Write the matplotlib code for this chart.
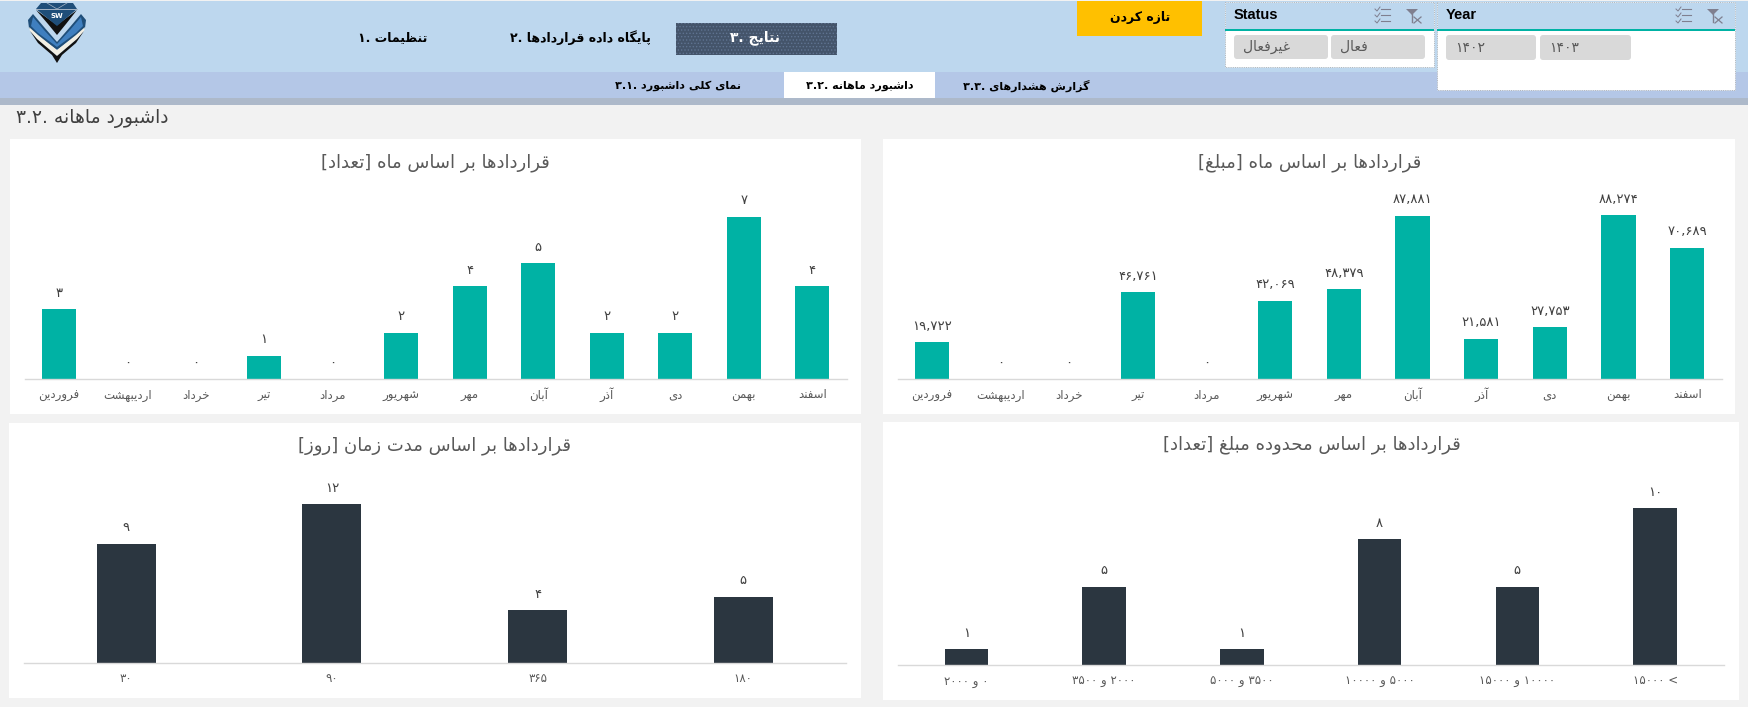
import re
import unicodedata
import matplotlib
matplotlib.use('Agg')
import matplotlib.pyplot as plt
from matplotlib.patches import Rectangle, Polygon, FancyBboxPatch

plt.rcParams['font.family'] = ['DejaVu Sans']
plt.rcParams['hatch.linewidth'] = 0.6

W, H = 1748, 707

# chart data
months = ['فروردین', 'اردیبهشت', 'خرداد', 'تیر', 'مرداد', 'شهریور', 'مهر', 'آبان', 'آذر', 'دی', 'بهمن', 'اسفند']
month_amount = [19722, 0, 0, 46761, 0, 42069, 48379, 87881, 21581, 27753, 88274, 70689]
month_count = [3, 0, 0, 1, 0, 2, 4, 5, 2, 2, 7, 4]
range_labels = ['۰ و ۲۰۰۰', '۲۰۰۰ و ۳۵۰۰', '۳۵۰۰ و ۵۰۰۰', '۵۰۰۰ و ۱۰۰۰۰', '۱۰۰۰۰ و ۱۵۰۰۰', '< ۱۵۰۰۰']
range_count = [1, 5, 1, 8, 5, 10]
duration_labels = ['۳۰', '۹۰', '۳۶۵', '۱۸۰']
duration_count = [9, 12, 4, 5]

TEAL = '#00B2A4'
DARK = '#2B3640'
GREY = '#595959'

RIGHT_JOIN = 'اآدذرزژو'


def is_letter(c):
    return unicodedata.name(c, '').startswith('ARABIC LETTER')


# matplotlib has no arabic shaping, so pick the joined forms by hand
def fa(text):
    out = []
    for i, c in enumerate(text):
        if not is_letter(c):
            out.append(c)
            continue
        prev = text[i - 1] if i > 0 else ' '
        nxt = text[i + 1] if i < len(text) - 1 else ' '
        p = is_letter(prev) and prev not in RIGHT_JOIN
        n = is_letter(nxt) and c not in RIGHT_JOIN
        form = 'MEDIAL' if p and n else 'FINAL' if p else 'INITIAL' if n else 'ISOLATED'
        try:
            out.append(unicodedata.lookup(unicodedata.name(c) + ' ' + form + ' FORM'))
        except KeyError:
            out.append(c)
    parts = re.findall(r'[۰-۹]+(?:[.,][۰-۹]+)*|.', ''.join(out))
    vis = ''.join(parts[::-1])
    return vis.translate({ord('['): ']', ord(']'): '['})


def fa_num(v):
    return f'{v:,}'.translate(str.maketrans('0123456789', '۰۱۲۳۴۵۶۷۸۹'))


fig = plt.figure(figsize=(W / 100, H / 100), dpi=100, facecolor='#F2F2F2')
bg = fig.add_axes([0, 0, 1, 1])
bg.set_xlim(0, W)
bg.set_ylim(H, 0)
bg.axis('off')


def box(x0, y0, x1, y1, color, **kw):
    bg.add_patch(Rectangle((x0, y0), x1 - x0, y1 - y0, facecolor=color, edgecolor=kw.pop('edgecolor', 'none'), **kw))


# header bands
box(0, 1, W, 72, '#BDD7EE')
box(0, 72, W, 98, '#B4C7E7')
box(0, 98, W, 105, '#ADB9CA')


# logo, wings are mirrored around x=57
def wing(pts, color):
    bg.add_patch(Polygon(pts, facecolor=color, edgecolor='none'))
    bg.add_patch(Polygon([(114 - x, y) for x, y in pts], facecolor=color, edgecolor='none'))


wing([(28, 20), (33, 14), (44, 27), (57, 42), (57, 50), (38, 36), (29, 28)], '#1F4E79')
wing([(33, 17), (44, 30), (57, 44), (57, 47), (38, 33), (31, 26)], '#3F7FBF')
wing([(29, 27), (38, 35), (57, 50), (57, 56), (37, 39), (30, 31)], '#F2EFE4')
wing([(30, 31), (37, 39), (57, 56), (57, 63), (52, 55), (38, 43)], '#111111')
bg.add_patch(Polygon([(36, 10), (57, 25), (77, 10), (66, 24), (57, 35), (48, 24)], facecolor='#111111'))
bg.add_patch(Polygon([(41, 3), (73, 3), (77, 9), (57, 26), (36, 9)], facecolor='#1F4E79'))
bg.plot([36, 77], [9, 9], color='#A6B4C4', lw=0.7)
bg.plot([47, 57, 67], [3, 9, 3], color='#A6B4C4', lw=0.5)
bg.text(57, 15.5, 'SW', color='white', fontsize=5, fontweight='bold', ha='center', va='center')

# main tabs
bg.add_patch(Rectangle((676, 23), 161, 32, facecolor='#44546A', edgecolor='#5F7391', hatch='.....', lw=0))
bg.text(755, 38, fa('نتایج .۳'), color='white', fontsize=10, fontweight='bold', ha='center', va='center')
bg.text(580, 38, fa('پایگاه داده قراردادها .۲'), color='black', fontsize=9, fontweight='bold', ha='center', va='center')
bg.text(393, 38, fa('تنظیمات .۱'), color='black', fontsize=9, fontweight='bold', ha='center', va='center')

# sub tabs
box(784, 72, 935, 98, 'white')
bg.text(860, 86, fa('داشبورد ماهانه .۳.۲'), color='black', fontsize=8, fontweight='bold', ha='center', va='center')
bg.text(678, 86, fa('نمای کلی داشبورد .۳.۱'), color='black', fontsize=8, fontweight='bold', ha='center', va='center')
bg.text(1026, 86, fa('گزارش هشدارهای .۳.۳'), color='black', fontsize=8, fontweight='bold', ha='center', va='center')

bg.text(16, 119, fa('داشبورد ماهانه .۳.۲'), color='#404040', fontsize=13.5, ha='left', va='center')

# refresh button
box(1077, 1, 1202, 36, '#FFC000')
bg.text(1140, 18, fa('تازه کردن'), color='black', fontsize=9, fontweight='bold', ha='center', va='center')


def slicer(x0, x1, y1, name, buttons):
    box(x0, 2, x1, y1, 'white', edgecolor='#A6A6A6', lw=0.6, ls=':')
    box(x0 + 0.5, 2.5, x1 - 0.5, 29, '#BDD7EE')
    box(x0, 29, x1, 31, TEAL)
    bg.text(x0 + 9, 15, name, color='black', fontsize=10.5, fontweight='bold', family='Liberation Sans', ha='left', va='center')
    # select / clear icons
    ix, fx = x1 - 52, x1 - 22
    for dy in (-6, 0, 6):
        bg.plot([ix - 1, ix + 8], [15 + dy, 15 + dy], color='#7F7F8F', lw=0.8)
        bg.plot([ix - 7, ix - 5, ix - 2], [15 + dy, 17 + dy, 13 + dy], color='#7F7F8F', lw=0.7)
    bg.add_patch(Polygon([(fx - 6, 9), (fx + 6, 9), (fx, 15)], facecolor='#7F7F8F'))
    bg.plot([fx, fx], [14, 22], color='#7F7F8F', lw=1)
    bg.plot([fx + 2, fx + 9], [17, 23], color='#7F7F8F', lw=0.9)
    bg.plot([fx + 2, fx + 9], [23, 17], color='#7F7F8F', lw=0.9)
    for bx0, bx1, by1, label in buttons:
        bg.add_patch(FancyBboxPatch((bx0 + 2, 37), bx1 - bx0 - 4, by1 - 39, boxstyle='round,pad=2,rounding_size=3', facecolor='#D9D9D9', edgecolor='none'))
        bg.text(bx0 + 9, (35 + by1) / 2, fa(label), color='#595959', fontsize=10, ha='left', va='center')


slicer(1225, 1434, 67, 'Status', [(1234, 1328, 59, 'غیرفعال'), (1331, 1425, 59, 'فعال')])
slicer(1437, 1735, 90, 'Year', [(1446, 1536, 60, '۱۴۰۲'), (1540, 1631, 60, '۱۴۰۳')])


def chart(panel, axis_x, base_y, px_per_unit, title, title_x, title_y, cats, values, color, bar_w):
    x0, y0, x1, y1 = panel
    box(x0, y0, x1, y1, 'white')
    bg.text(title_x, title_y, fa(title), color=GREY, fontsize=13, ha='center', va='center')
    # axes in pixel position, y limit chosen so the value scale fits the panel
    top = y0 + 2
    ax = fig.add_axes([axis_x[0] / W, 1 - base_y / H, (axis_x[1] - axis_x[0]) / W, (base_y - top) / H])
    ax.patch.set_visible(False)
    ax.bar(range(len(values)), values, width=bar_w, color=color)
    ax.set_xlim(-0.5, len(values) - 0.5)
    ax.set_ylim(0, (base_y - top) / px_per_unit)
    for s in ('top', 'left', 'right'):
        ax.spines[s].set_visible(False)
    ax.spines['bottom'].set_color('#D9D9D9')
    ax.spines['bottom'].set_linewidth(1)
    ax.set_yticks([])
    ax.set_xticks(range(len(values)))
    ax.set_xticklabels([fa(c) for c in cats], fontsize=8.5, color=GREY, va='baseline')
    ax.tick_params(axis='x', length=0, pad=14)
    for i, v in enumerate(values):
        ax.annotate(fa(fa_num(v)), (i, v), xytext=(0, 11.5), textcoords='offset points',
                    ha='center', va='center', fontsize=9.5, color='#404040')


chart((883, 139, 1735, 414), (897.5, 1721.5), 379, 164 / 88274, 'قراردادها بر اساس ماه [مبلغ]', 1310, 163,
      months, month_amount, TEAL, 0.5)
chart((10, 139, 861, 414), (24.5, 846.5), 379, 23.2, 'قراردادها بر اساس ماه [تعداد]', 435, 163,
      months, month_count, TEAL, 0.5)
chart((883, 422, 1739, 700), (897.5, 1724), 665, 15.7, 'قراردادها بر اساس محدوده مبلغ [تعداد]', 1312, 445,
      range_labels, range_count, DARK, 0.316)
chart((9, 423, 861, 698), (23.5, 846), 663, 13.25, 'قراردادها بر اساس مدت زمان [روز]', 435, 446,
      duration_labels, duration_count, DARK, 0.287)

fig.savefig('out.png', dpi=100, facecolor=fig.get_facecolor())
